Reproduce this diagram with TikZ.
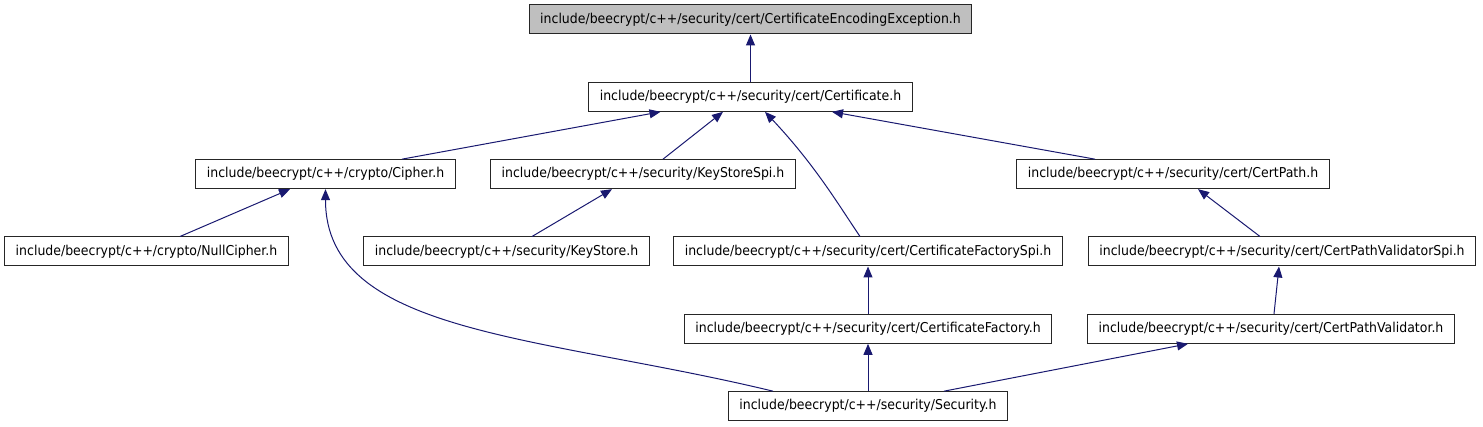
\documentclass[tikz,border=0pt]{standalone}
\usepackage{fontspec}
\setmainfont{DejaVu Sans}[FakeStretch=0.92]
\usepackage{tikz}
\usetikzlibrary{arrows.meta, calc}
\definecolor{edgeblue}{HTML}{191970}
\definecolor{rootgray}{HTML}{BFBFBF}
\tikzstyle{header} =
[rectangle, minimum height = 21.75pt, inner xsep = 8.25pt, inner ysep = 0pt,
text centered, draw=black!85, line width = 0.75pt, fill=white,
font=\fontsize{10.2}{12}\selectfont]
\tikzstyle{root} = [header, fill=rootgray]
\tikzstyle{line} =
[draw, edgeblue, line width = 0.75pt, -{Triangle[length=8.25pt, width=6.75pt]}]

\begin{document}
\begin{tikzpicture}[x=0.75pt, y=-0.75pt, node distance = 58pt]
  \useasboundingbox (0,0) rectangle (1483,427);
  % 1st level nodes
  \node [root] (exc) at (750.5,19.5)
   {include/beecrypt/c++/security/cert/CertificateEncodingException.h};
  \node [header, below of=exc] (cert)
   {include/beecrypt/c++/security/cert/Certificate.h};
  % 1st level edges
  \path [line] (cert) -- (exc);
  %
  % 2nd level nodes
  \node [header] (cipher) at (325.5,174.17) {include/beecrypt/c++/crypto/Cipher.h};
  \node [header] (kssp) at (643,174.17) {include/beecrypt/c++/security/KeyStoreSpi.h};
  \node [header] (cpath) at (1173,174.17)
   {include/beecrypt/c++/security/cert/CertPath.h};
  % 2nd level edges
  \path [line] ($(cipher.north)+(76.5,0)$) -- ($(cert.south)+(-90,0)$);
  \path [line] ($(kssp.north)+(20,0)$) -- ($(cert.south)+(-27.5,0)$);
  \path [line] ($(cpath.north)+(-78,0)$) -- ($(cert.south)+(81.5,0)$);
  %
  % 3rd level nodes
  \node [header] (nullc) at (146.5,251.5) {include/beecrypt/c++/crypto/NullCipher.h};
  \node [header] (ks) at (506.5,251.5) {include/beecrypt/c++/security/KeyStore.h};
  \node [header] (cfspi) at (868,251.5)
   {include/beecrypt/c++/security/cert/CertificateFactorySpi.h};
  \node [header] (cpvspi) at (1282,251.5)
   {include/beecrypt/c++/security/cert/CertPathValidatorSpi.h};
  % 3rd level edges
  \path [line] ($(nullc.north)+(33.5,0)$) -- ($(cipher.south)+(-35.5,0)$);
  \path [line] ($(ks.north)+(25.5,0)$) -- ($(kssp.south)+(-31,0)$);
  \path [line] ($(cfspi.north)+(-8,0)$) .. controls (838,204) and (815,165)
   .. ($(cert.south)+(14.5,0)$);
  \path [line] ($(cpvspi.north)+(-22,0)$) -- ($(cpath.south)+(25,0)$);
  %
  % 4th level nodes
  \node [header, below of=cfspi] (cf)
   {include/beecrypt/c++/security/cert/CertificateFactory.h};
  \node [header] (cpv) at (1271,328.83)
   {include/beecrypt/c++/security/cert/CertPathValidator.h};
  % 4th level edges
  \path [line] (cf) -- (cfspi);
  \path [line] ($(cpv.north)+(3,0)$) -- ($(cpvspi.south)+(-3,0)$);
  %
  % 5th level nodes
  \node [header, below of=cf] (sec) {include/beecrypt/c++/security/Security.h};
  % 5th level edges
  \path [line] (sec) -- (cf);
  \path [line] ($(sec.north)+(76,0)$) -- ($(cpv.south)+(-83,0)$);
  \path [line] ($(sec.north)+(-95,0)$) .. controls (540,335) and (325.5,335)
   .. (cipher.south);
\end{tikzpicture}
\end{document}
